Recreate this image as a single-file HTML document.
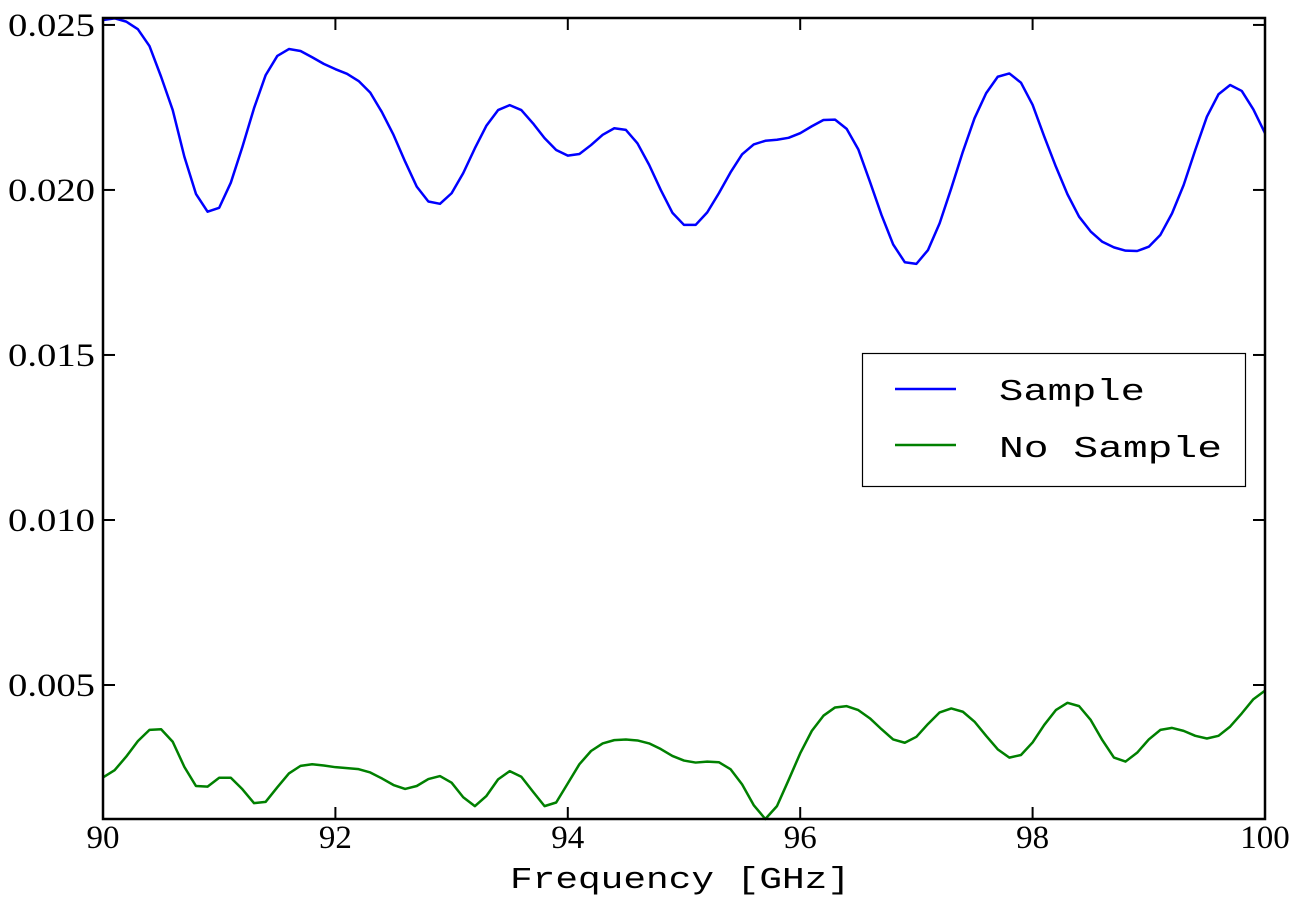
<!DOCTYPE html>
<html><head><meta charset="utf-8"><style>
html,body{margin:0;padding:0;background:#fff;}
svg{display:block;}
.tk{font-family:"Liberation Serif",serif;font-size:33px;fill:#000;}
.mono{font-family:"Liberation Mono",monospace;font-size:31px;fill:#000;}
</style></head><body>
<svg id="chart" width="1304" height="904" viewBox="0 0 1304 904">
<g id="plot"></g>
</svg>
<script>
const freqStart = 90, freqStep = 0.1;
const sampleValues = [0.02515,0.0252,0.0251,0.02487,0.02436,0.02343,0.02242,0.02101,0.01988,0.01934,0.01946,0.02022,0.02131,0.02248,0.02348,0.02406,0.02427,0.02421,0.02402,0.02382,0.02366,0.02352,0.0233,0.02295,0.02236,0.02167,0.02086,0.0201,0.01965,0.01958,0.0199,0.02051,0.02126,0.02195,0.02242,0.02257,0.02242,0.02202,0.02157,0.02121,0.02104,0.02109,0.02136,0.02167,0.02187,0.02182,0.02141,0.02076,0.0200,0.01931,0.01894,0.01894,0.01932,0.0199,0.02053,0.02108,0.02138,0.02149,0.02152,0.02158,0.02172,0.02193,0.02212,0.02213,0.02185,0.02123,0.02025,0.01924,0.01835,0.01781,0.01776,0.01818,0.01899,0.02005,0.02116,0.02217,0.02293,0.02343,0.02353,0.02325,0.02258,0.02162,0.02071,0.01987,0.01919,0.01874,0.01843,0.01826,0.01816,0.01815,0.01828,0.01864,0.01929,0.02015,0.02121,0.02222,0.0229,0.02318,0.023,0.02244,0.02172];
const noSampleValues = [0.0022,0.00242,0.00283,0.0033,0.00364,0.00366,0.00328,0.00252,0.00194,0.00192,0.00219,0.00219,0.00184,0.00142,0.00146,0.0019,0.00232,0.00255,0.0026,0.00256,0.00251,0.00248,0.00245,0.00235,0.00217,0.00197,0.00185,0.00194,0.00215,0.00224,0.00204,0.0016,0.00133,0.00164,0.00214,0.00239,0.00222,0.00177,0.00133,0.00144,0.00202,0.0026,0.003,0.00323,0.00333,0.00335,0.00332,0.00323,0.00306,0.00285,0.00271,0.00265,0.00268,0.00266,0.00245,0.00199,0.00136,0.00094,0.00133,0.00212,0.00293,0.00361,0.00407,0.00432,0.00436,0.00424,0.00399,0.00366,0.00335,0.00325,0.00343,0.00382,0.00417,0.00429,0.00419,0.00389,0.00346,0.00305,0.0028,0.00288,0.00326,0.00379,0.00424,0.00446,0.00436,0.00394,0.00333,0.0028,0.00268,0.00295,0.00335,0.00364,0.0037,0.00361,0.00346,0.00338,0.00346,0.00374,0.00414,0.00457,0.00483];
const xTicks = [90,92,94,96,98,100];
const xTickLabels = ["90","92","94","96","98","100"];
const yTicks = [0.005,0.010,0.015,0.020,0.025];
const yTickLabels = ["0.005","0.010","0.015","0.020","0.025"];

const L=103,R=1265,T=18,B=819;
const xMin=90,xMax=100,yMin=0.00094,yMax=0.02521;
const X=v=>L+(v-xMin)/(xMax-xMin)*(R-L);
const Y=v=>B-(v-yMin)/(yMax-yMin)*(B-T);
const NS="http://www.w3.org/2000/svg";
const g=document.getElementById('plot');
function mk(tag,attrs,parent){const e=document.createElementNS(NS,tag);for(const k in attrs)e.setAttribute(k,attrs[k]);(parent||g).appendChild(e);return e;}

function series(vals,color,name){
  const pts=vals.map((v,i)=>X(freqStart+i*freqStep).toFixed(2)+','+Y(v).toFixed(2)).join(' ');
  const p=mk('polyline',{points:pts,fill:'none',stroke:color,'stroke-width':2.5,'stroke-linejoin':'round'});
  
  
}
series(sampleValues,'#0000ff','sample-line');
series(noSampleValues,'#008000','no-sample-line');

xTicks.forEach((t,i)=>{
  const x=X(t);
  const a=mk('line',{x1:x,x2:x,y1:B,y2:B-12,stroke:'#000','stroke-width':2});
  
  
  mk('line',{x1:x,x2:x,y1:T,y2:T+12,stroke:'#000','stroke-width':2});
  const tx=mk('text',{x:x,y:B+29,'text-anchor':'middle',class:'tk'});
  tx.textContent=xTickLabels[i];
  
  
});
yTicks.forEach((t,i)=>{
  const y=Y(t);
  const a=mk('line',{x1:L,x2:L+12,y1:y,y2:y,stroke:'#000','stroke-width':2});
  
  
  mk('line',{x1:R,x2:R-12,y1:y,y2:y,stroke:'#000','stroke-width':2});
  const tx=mk('text',{x:8,y:y+11,class:'tk',textLength:87,lengthAdjust:'spacingAndGlyphs'});
  tx.textContent=yTickLabels[i];
  
  
});
const fr=mk('rect',{x:L,y:T,width:R-L,height:B-T,fill:'none',stroke:'#000','stroke-width':2.5});


</script>
<svg width="1304" height="904" style="position:absolute;left:0;top:0">
<text class="mono" x="510" y="888" textLength="340" lengthAdjust="spacingAndGlyphs">Frequency [GHz]</text>
<g>
<rect x="862.5" y="353.5" width="383" height="133" fill="#fff" stroke="#000" stroke-width="1.2"/>
<line x1="895" x2="956" y1="389" y2="389" stroke="#0000ff" stroke-width="2.5"/>
<text class="mono" x="999" y="400" textLength="146" lengthAdjust="spacingAndGlyphs">Sample</text>
<line x1="895" x2="956" y1="445" y2="445" stroke="#008000" stroke-width="2.5"/>
<text class="mono" x="999" y="457" textLength="223" lengthAdjust="spacingAndGlyphs">No Sample</text>
</g>
</svg>
</body></html>
